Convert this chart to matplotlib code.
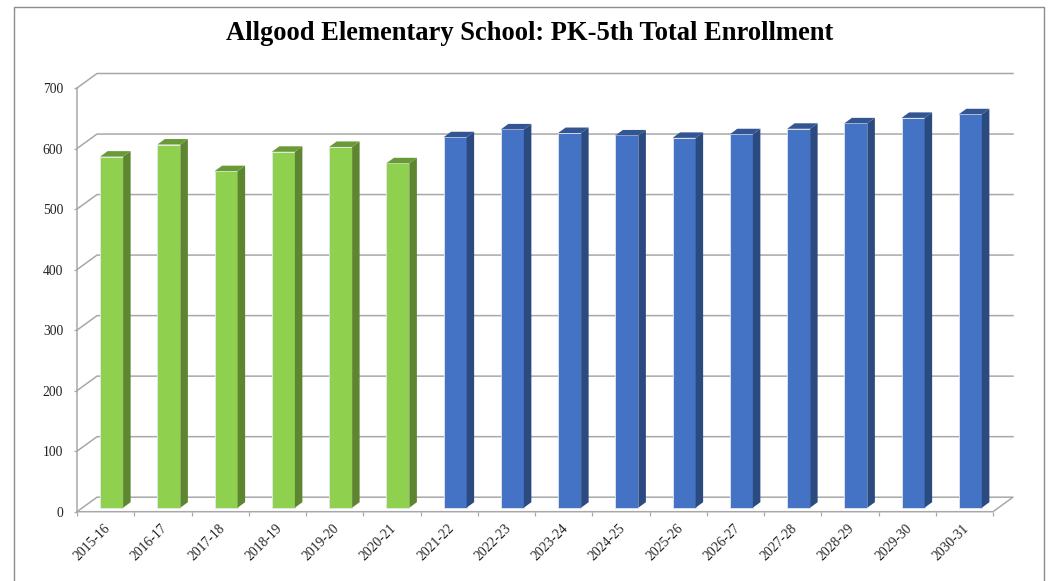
import numpy as np
import matplotlib
matplotlib.use('Agg')
import matplotlib.pyplot as plt
from matplotlib.patches import Polygon
from matplotlib.lines import Line2D
from matplotlib.transforms import ScaledTranslation

years = ['2015-16', '2016-17', '2017-18', '2018-19', '2019-20', '2020-21', '2021-22', '2022-23',
         '2023-24', '2024-25', '2025-26', '2026-27', '2027-28', '2028-29', '2029-30', '2030-31']
actual = [580, 600, 556, 588, 596, 569]
projected = [612, 625, 619, 615, 611, 617, 626, 635, 644, 650]
y_ticks = [0, 100, 200, 300, 400, 500, 600, 700]

W, H = 1054, 581
plt.rcParams['font.family'] = ['Liberation Serif', 'DejaVu Serif']

fig = plt.figure(figsize=(W / 100, H / 100), dpi=100)
# front plane of the fake 3d box, in pixels
left, right, top, bottom = 77, 993, 88, 511.7
ax = fig.add_axes([left / W, 1 - bottom / H, (right - left) / W, (bottom - top) / H])
ax.set_xlim(0, 16)
ax.set_ylim(0, 700)
ax.patch.set_visible(False)
for s in ax.spines.values():
    s.set_visible(False)

# pixel offsets turned into data units
px_x = 16 / (right - left)
px_y = 700 / (bottom - top)
wall_dx, wall_dy = 20 * px_x, 14.5 * px_y
bar_dx, bar_dy = 7.5 * px_x, 5.5 * px_y
bar_w = 23 * px_x
bar_shift = 6 * px_x
bar_base = 4 * px_y

grid = '#a8a8a8'
for v in y_ticks:
    if v == 0:
        continue
    ax.plot([0, wall_dx, 16 + wall_dx], [v, v + wall_dy, v + wall_dy], color=grid, lw=1.1, clip_on=False, zorder=1)
# floor
ax.plot([0, wall_dx, 16 + wall_dx, 16, 0], [0, wall_dy, wall_dy, 0, 0], color=grid, lw=1.1, clip_on=False, zorder=1)
ax.plot([0, 0], [0, 700], color=grid, lw=1.1, clip_on=False, zorder=1)


def draw_bars(xs, vals, front, side, lid):
    xs = np.asarray(xs) + 0.5 + bar_shift
    # faint edge stays visible only on the left and bottom, the side and lid cover the rest
    ax.bar(xs, vals, width=bar_w, bottom=bar_base, color=front, edgecolor='#e4e7ec', linewidth=0.6, zorder=2)
    for x, v in zip(xs, vals):
        x0, x1 = x - bar_w / 2, x + bar_w / 2
        y0, y1 = bar_base, bar_base + v
        ax.add_patch(Polygon([(x1, y0), (x1 + bar_dx, y0 + bar_dy), (x1 + bar_dx, y1 + bar_dy), (x1, y1)],
                             facecolor=side, edgecolor='none', zorder=2.5, clip_on=False))
        ax.add_patch(Polygon([(x0, y1), (x0 + bar_dx, y1 + bar_dy), (x1 + bar_dx, y1 + bar_dy), (x1, y1)],
                             facecolor=lid, edgecolor='none', zorder=2.5, clip_on=False))


n_actual = len(actual)
draw_bars(range(n_actual), actual, '#8fd14f', '#5e8530', '#6a9a36')
draw_bars(range(n_actual, len(years)), projected, '#4472c4', '#2b4a80', '#335593')

ax.set_yticks(y_ticks)
ax.set_yticklabels([str(v) for v in y_ticks], fontsize=9.8, color='#222222')
ax.tick_params(axis='y', length=2, width=0.9, color=grid, pad=8)
ax.set_xticks(np.arange(17))
ax.set_xticklabels([])
ax.tick_params(axis='x', which='major', length=3, width=0.9, color=grid)
ax.set_xticks(np.arange(16) + 0.5, minor=True)
ax.set_xticklabels(years, minor=True, rotation=45, ha='right', rotation_mode='anchor', fontsize=9.8, color='#222222')
ax.tick_params(axis='x', which='minor', length=0, pad=8)
nudge = ScaledTranslation(-2 / 100, 1 / 100, fig.dpi_scale_trans)
for lab in ax.get_xticklabels(minor=True):
    lab.set_transform(lab.get_transform() + nudge)

# chart frame, no bottom edge in the crop
fig.add_artist(Line2D([13.5 / W, 13.5 / W, 1044 / W, 1044 / W], [0, 1 - 6.5 / H, 1 - 6.5 / H, 0], color='#8c8c8c', lw=1))

fig.text(529.5 / W, 1 - 33 / H, 'Allgood Elementary School: PK-5th Total Enrollment',
         ha='center', va='center', fontsize=19.1, fontweight='bold', color='black')

fig.savefig('out.png', dpi=100)
